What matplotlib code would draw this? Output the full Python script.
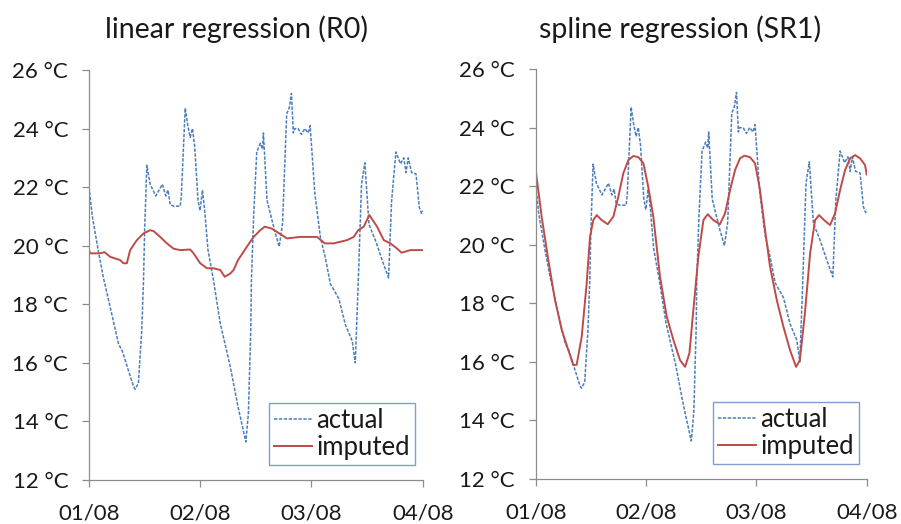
import matplotlib
matplotlib.use("Agg")
import matplotlib.pyplot as plt

plt.rcParams['font.family'] = ['Lato', 'DejaVu Sans']

# ---------------- data (days since 01/08, temperature in °C) ----------------
actual_days = [0.00, 0.03, 0.084, 0.13, 0.205, 0.266, 0.30, 0.356, 0.40, 0.414, 0.444, 0.474,
               0.49, 0.50, 0.52, 0.55, 0.60, 0.66, 0.69, 0.71, 0.73, 0.76, 0.82, 0.83,
               0.865, 0.89, 0.91, 0.93, 0.95, 0.98, 0.998, 1.02, 1.04, 1.07, 1.12, 1.18,
               1.27, 1.34, 1.41, 1.433, 1.454, 1.46, 1.48, 1.508, 1.54, 1.56, 1.568, 1.58,
               1.60, 1.63, 1.67, 1.71, 1.74, 1.777, 1.80, 1.82, 1.837, 1.85, 1.88, 1.91,
               1.94, 1.97, 1.988, 2.03, 2.08, 2.124, 2.17, 2.245, 2.305, 2.366, 2.394, 2.42,
               2.45, 2.48, 2.517, 2.577, 2.638, 2.693, 2.72, 2.759, 2.80, 2.83, 2.85, 2.87,
               2.90, 2.94, 2.97, 2.99, 3.00]
actual_temp = [22.0, 21.0, 19.82, 18.9, 17.66, 16.64, 16.4, 15.72, 15.2, 15.1, 15.3, 17.1,
               18.8, 20.5, 22.75, 22.1, 21.7, 22.1, 21.7, 21.9, 21.4, 21.35, 21.35, 21.7,
               24.7, 24.06, 23.7, 24.0, 23.4, 21.56, 21.2, 21.9, 21.2, 19.85, 18.8, 17.35,
               15.87, 14.5, 13.3, 14.28, 17.1, 18.8, 21.0, 23.2, 23.5, 23.3, 23.85, 23.0,
               21.56, 21.1, 20.5, 19.97, 20.76, 24.5, 24.7, 25.2, 23.85, 24.0, 24.0, 23.8,
               24.0, 23.85, 24.1, 21.8, 20.3, 19.6, 18.7, 18.2, 17.3, 16.75, 16.0, 18.7,
               22.1, 22.83, 20.73, 20.16, 19.48, 18.9, 21.5, 23.2, 22.8, 23.0, 22.5, 23.0,
               22.5, 22.45, 21.3, 21.1, 21.2]

linear_days = [0.00, 0.01, 0.10, 0.14, 0.19, 0.28, 0.31, 0.34, 0.37, 0.43, 0.49, 0.55,
               0.58, 0.64, 0.70, 0.76, 0.82, 0.91, 0.94, 1.00, 1.06, 1.12, 1.18, 1.22,
               1.27, 1.30, 1.34, 1.42, 1.48, 1.54, 1.58, 1.64, 1.69, 1.78, 1.90, 1.99,
               2.05, 2.12, 2.20, 2.32, 2.38, 2.42, 2.47, 2.52, 2.59, 2.65, 2.71, 2.77,
               2.81, 2.89, 3.00]
linear_temp = [19.85, 19.74, 19.74, 19.78, 19.62, 19.51, 19.4, 19.4, 19.85, 20.19, 20.42, 20.53,
               20.5, 20.3, 20.08, 19.9, 19.85, 19.87, 19.74, 19.4, 19.23, 19.23, 19.17, 18.94,
               19.05, 19.17, 19.51, 19.97, 20.3, 20.53, 20.65, 20.59, 20.47, 20.25, 20.3, 20.3,
               20.3, 20.08, 20.08, 20.19, 20.3, 20.53, 20.65, 21.05, 20.65, 20.19, 20.08, 19.9,
               19.76, 19.85, 19.85]

spline_days = [0.000, 0.054, 0.114, 0.175, 0.236, 0.296, 0.341, 0.371, 0.417, 0.462, 0.492, 0.522,
               0.553, 0.598, 0.653, 0.704, 0.749, 0.794, 0.840, 0.885, 0.930, 0.976, 1.020, 1.066,
               1.127, 1.188, 1.248, 1.308, 1.354, 1.393, 1.429, 1.474, 1.520, 1.559, 1.610, 1.670,
               1.716, 1.762, 1.807, 1.852, 1.891, 1.942, 1.988, 2.033, 2.079, 2.124, 2.185, 2.245,
               2.305, 2.360, 2.394, 2.440, 2.487, 2.532, 2.568, 2.614, 2.668, 2.713, 2.759, 2.804,
               2.850, 2.895, 2.940, 2.985, 3.000]
spline_temp = [22.55, 20.96, 19.48, 18.11, 17.09, 16.40, 15.89, 15.90, 16.86, 18.68, 20.27, 20.84,
               21.01, 20.84, 20.70, 20.96, 21.64, 22.44, 22.89, 23.03, 22.99, 22.78, 21.98, 20.96,
               18.90, 17.54, 16.75, 16.06, 15.83, 16.29, 17.77, 19.59, 20.84, 21.04, 20.84, 20.70,
               21.07, 21.87, 22.55, 22.95, 23.04, 22.99, 22.78, 21.87, 20.50, 19.25, 18.11, 17.20,
               16.40, 15.83, 16.06, 17.66, 19.70, 20.84, 21.01, 20.84, 20.67, 21.07, 21.87, 22.55,
               22.95, 23.06, 22.95, 22.72, 22.40]

x_ticks = [0, 1, 2, 3]
x_tick_labels = ["01/08", "02/08", "03/08", "04/08"]
y_ticks = [12, 14, 16, 18, 20, 22, 24, 26]
y_tick_labels = [f"{v} °C" for v in y_ticks]
titles = ["linear regression (R0)", "spline regression (SR1)"]
legend_labels = ["actual", "imputed"]

# ---------------- styling ----------------
BLUE = "#4A7EBB"
RED = "#BE4B48"
AXIS_GRAY = "#8C8C8C"
LEGEND_EDGE = "#5B86C5"

fig = plt.figure(figsize=(9.01, 5.24), dpi=100)
W, H = 901, 524

panels = [
    dict(x0=89, x1=422.7, ytop=70, ybot=480, imp_days=linear_days, imp_temp=linear_temp,
         title_x=236),
    dict(x0=535.7, x1=866.7, ytop=69, ybot=479, imp_days=spline_days, imp_temp=spline_temp,
         title_x=680),
]

for p, title in zip(panels, titles):
    ax = fig.add_axes([p['x0'] / W, 1 - p['ybot'] / H,
                       (p['x1'] - p['x0']) / W, (p['ybot'] - p['ytop']) / H])
    ax.plot(actual_days, actual_temp, color=BLUE, lw=1.1, linestyle=(0, (2.2, 1.0)),
            label=legend_labels[0])
    ax.plot(p['imp_days'], p['imp_temp'], color=RED, lw=1.4, label=legend_labels[1])
    ax.set_xlim(0, 3)
    ax.set_ylim(12, 26)
    ax.set_xticks(x_ticks)
    ax.set_xticklabels(x_tick_labels)
    ax.set_yticks(y_ticks)
    ax.set_yticklabels(y_tick_labels)
    for s in ['top', 'right']:
        ax.spines[s].set_visible(False)
    for s in ['left', 'bottom']:
        ax.spines[s].set_color(AXIS_GRAY)
        ax.spines[s].set_linewidth(0.9)
    ax.tick_params(axis='both', direction='out', length=5, width=0.9, color=AXIS_GRAY,
                   labelsize=16, labelcolor='#1a1a1a')
    ax.tick_params(axis='y', pad=10)
    ax.tick_params(axis='x', pad=12)
    leg = ax.legend(loc='lower right', bbox_to_anchor=(0.977, 0.037), fontsize=18.5,
                    frameon=True, fancybox=False, handlelength=1.5, handletextpad=0.15,
                    borderpad=0.2, labelspacing=0.05, borderaxespad=0)
    leg.get_frame().set_edgecolor(LEGEND_EDGE)
    leg.get_frame().set_linewidth(1.0)
    for t in leg.get_texts():
        t.set_color('#1a1a1a')
    fig.text(p['title_x'] / W, 1 - 29 / H, title, ha='center', va='center', fontsize=20.5,
             color='#1a1a1a')

fig.savefig("out.png", dpi=100)
